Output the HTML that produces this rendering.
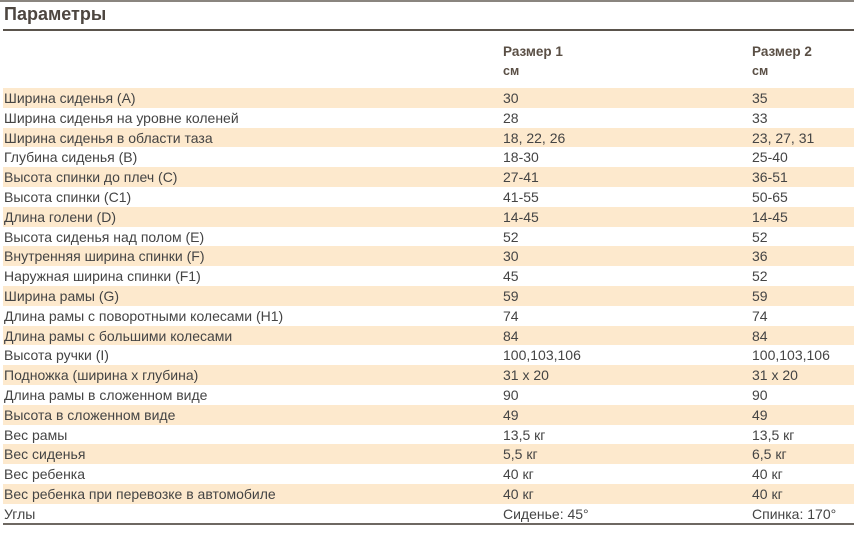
<!DOCTYPE html>
<html><head><meta charset="utf-8"><style>
body{margin:0;width:854px;height:542px;background:#fff;font-family:"Liberation Sans",Arial,sans-serif;position:relative;overflow:hidden}
.top{position:absolute;left:0;top:0;width:854px;height:2px;background:#8a857f}
h1{position:absolute;left:4px;top:4px;margin:0;font-size:18px;font-weight:bold;color:#4d4640}
.ul{position:absolute;left:3px;top:29px;width:851px;height:2px;background:#5a534c}
.hd{position:absolute;top:42px;font-size:13.5px;font-weight:bold;color:#5a4f45;line-height:19px}
.hd small{font-size:12.5px}
.row{position:absolute;left:3px;width:851px;height:19.8px;font-size:14px;color:#444;line-height:20px}
.row.s{background:#fde9cd}
.row span{position:absolute;top:0}
.a{left:1px}.b{left:500px}.c{left:749px}
.bot{position:absolute;left:3px;top:523px;width:851px;height:2px;background:#6e6862}
</style></head><body>
<div class="top"></div>
<h1>Параметры</h1>
<div class="ul"></div>
<div class="hd" style="left:503px">Размер 1<br><small>см</small></div>
<div class="hd" style="left:752px">Размер 2<br><small>см</small></div>
<div class="row s" style="top:88px"><span class="a">Ширина сиденья (A)</span><span class="b">30</span><span class="c">35</span></div>
<div class="row" style="top:107.8px"><span class="a">Ширина сиденья на уровне коленей</span><span class="b">28</span><span class="c">33</span></div>
<div class="row s" style="top:127.6px"><span class="a">Ширина сиденья в области таза</span><span class="b">18, 22, 26</span><span class="c">23, 27, 31</span></div>
<div class="row" style="top:147.4px"><span class="a">Глубина сиденья (B)</span><span class="b">18-30</span><span class="c">25-40</span></div>
<div class="row s" style="top:167.2px"><span class="a">Высота спинки до плеч (C)</span><span class="b">27-41</span><span class="c">36-51</span></div>
<div class="row" style="top:187px"><span class="a">Высота спинки (C1)</span><span class="b">41-55</span><span class="c">50-65</span></div>
<div class="row s" style="top:206.8px"><span class="a">Длина голени (D)</span><span class="b">14-45</span><span class="c">14-45</span></div>
<div class="row" style="top:226.6px"><span class="a">Высота сиденья над полом (E)</span><span class="b">52</span><span class="c">52</span></div>
<div class="row s" style="top:246.4px"><span class="a">Внутренняя ширина спинки (F)</span><span class="b">30</span><span class="c">36</span></div>
<div class="row" style="top:266.2px"><span class="a">Наружная ширина спинки (F1)</span><span class="b">45</span><span class="c">52</span></div>
<div class="row s" style="top:286px"><span class="a">Ширина рамы (G)</span><span class="b">59</span><span class="c">59</span></div>
<div class="row" style="top:305.8px"><span class="a">Длина рамы с поворотными колесами (H1)</span><span class="b">74</span><span class="c">74</span></div>
<div class="row s" style="top:325.6px"><span class="a">Длина рамы с большими колесами</span><span class="b">84</span><span class="c">84</span></div>
<div class="row" style="top:345.4px"><span class="a">Высота ручки (I)</span><span class="b">100,103,106</span><span class="c">100,103,106</span></div>
<div class="row s" style="top:365.2px"><span class="a">Подножка (ширина х глубина)</span><span class="b">31 x 20</span><span class="c">31 x 20</span></div>
<div class="row" style="top:385px"><span class="a">Длина рамы в сложенном виде</span><span class="b">90</span><span class="c">90</span></div>
<div class="row s" style="top:404.8px"><span class="a">Высота в сложенном виде</span><span class="b">49</span><span class="c">49</span></div>
<div class="row" style="top:424.6px"><span class="a">Вес рамы</span><span class="b">13,5 кг</span><span class="c">13,5 кг</span></div>
<div class="row s" style="top:444.4px"><span class="a">Вес сиденья</span><span class="b">5,5 кг</span><span class="c">6,5 кг</span></div>
<div class="row" style="top:464.2px"><span class="a">Вес ребенка</span><span class="b">40 кг</span><span class="c">40 кг</span></div>
<div class="row s" style="top:484px"><span class="a">Вес ребенка при перевозке в автомобиле</span><span class="b">40 кг</span><span class="c">40 кг</span></div>
<div class="row" style="top:503.8px"><span class="a">Углы</span><span class="b">Сиденье: 45°</span><span class="c">Спинка: 170°</span></div>
<div class="bot"></div>
</body></html>
